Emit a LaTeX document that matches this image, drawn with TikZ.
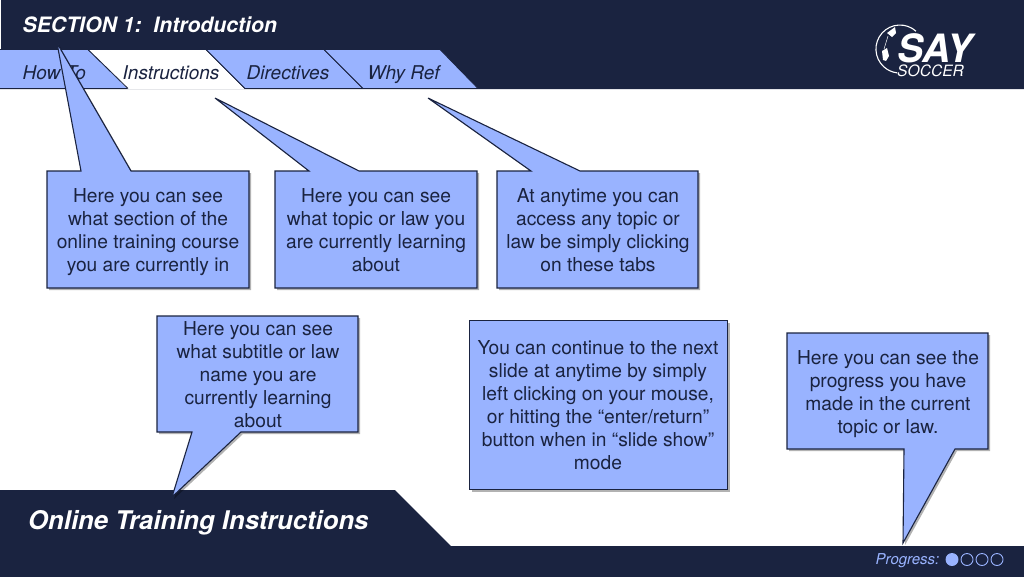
\documentclass[tikz,border=0pt]{standalone}
\usepackage{fontspec}
\setmainfont{TeX Gyre Heros}
\usetikzlibrary{shadows}
\definecolor{navy}{HTML}{1A2340}
\definecolor{sky}{HTML}{99B3FF}
\tikzset{
	bubble/.style={draw=navy, fill=sky, line width=1.1pt, line join=miter,
		drop shadow={shadow xshift=2pt, shadow yshift=-2pt, opacity=0.3, fill=black}},
	bubbletext/.style={align=center, text=navy, font=\fontsize{19.2}{23}\selectfont},
	tabshape/.style={draw=navy, fill=sky, line width=0.8pt},
	tabtext/.style={anchor=base west, inner sep=0pt, text=navy, font=\fontsize{19}{23}\selectfont\itshape},
	dot/.style={circle, draw=sky, line width=0.9pt, minimum size=12pt, inner sep=0pt}
}
\begin{document}
\begin{tikzpicture}[x=1pt, y=-1pt]
	\useasboundingbox (0, 0) rectangle (1024, 576);

	%faixa superior
	\fill[navy] (1, 0) -- (1024, 0) -- (1024, 89) -- (0, 89) -- (0, 49) -- (1, 49) -- cycle;
	\node[anchor=base west, inner sep=0pt, text=white, font=\fontsize{21.2}{24}\selectfont\bfseries\itshape] (section) at (22.5, 32) {SECTION 1:\ \ Introduction};

	%abas
	\draw[tabshape] (0, 49.5) -- (88, 49.5) -- (128, 88.5) -- (0, 88.5);
	\fill[white] (88, 49.5) -- (206, 49.5) -- (245, 89) -- (128, 89) -- cycle;
	\draw[navy, line width=0.8pt] (128, 88.5) -- (88, 49.5) -- (206, 49.5) -- (245, 88.5);
	\draw[tabshape] (206, 49.5) -- (324, 49.5) -- (363, 88.5) -- (245, 88.5) -- cycle;
	\draw[tabshape] (324, 49.5) -- (440, 49.5) -- (478, 88.5) -- (363, 88.5) -- cycle;
	\node[tabtext] (howto) at (22.5, 79.5) {How To};
	\node[tabtext] (instructions) at (122.5, 79.5) {Instructions};
	\node[tabtext] (directives) at (246.5, 79.5) {Directives};
	\node[tabtext] (whyref) at (367.5, 79.5) {Why Ref};

	%logo
	\draw[white, line width=1.1pt] (916, 31.2) arc (-48:-263:24);
	\fill[white] (887, 33) -- (895, 27) -- (896, 33) -- (892, 37) -- cycle;
	\fill[white] (882, 51) -- (887, 48) -- (889, 56) -- (886, 61) -- (883, 60) -- cycle;
	\draw[white, line width=0.5pt] (888, 36) -- (884, 49);
	\node[anchor=base west, inner sep=0pt, text=white, font=\fontsize{39}{44}\selectfont\bfseries\itshape] (say) at (897, 62) {SAY};
	\node[anchor=base west, inner sep=0pt, text=white, font=\fontsize{15.6}{16}\selectfont\itshape] (soccer) at (897, 76) {SOCCER};

	%faixa inferior
	\fill[navy] (0, 490) -- (395, 490) -- (451, 546) -- (1025, 546) -- (1025, 577) -- (0, 577) -- cycle;
	\node[anchor=base west, inner sep=0pt, text=white, font=\fontsize{25.7}{30}\selectfont\bfseries\itshape] (title) at (28, 529.5) {Online Training Instructions};
	\node[anchor=base east, inner sep=0pt, text=sky, font=\fontsize{15}{18}\selectfont\itshape] (progress) at (939.5, 564.5) {Progress:};
	\node[dot, fill=sky] (dot1) at (952, 559.5) {};
	\node[dot] (dot2) at (967, 559.5) {};
	\node[dot] (dot3) at (982, 559.5) {};
	\node[dot] (dot4) at (997, 559.5) {};

	%balao 1
	\draw[bubble] (47, 171) -- (81, 171) -- (57, 43) -- (131, 171) -- (249, 171) -- (249, 288) -- (47, 288) -- cycle;
	\node[bubbletext] (box1) at (148, 232) {Here you can see\\what section of the\\online training course\\you are currently in};

	%balao 2
	\draw[bubble] (275, 171) -- (309, 171) -- (215, 98) -- (359, 171) -- (477, 171) -- (477, 288) -- (275, 288) -- cycle;
	\node[bubbletext] (box2) at (376, 230) {Here you can see\\what topic or law you\\are currently learning\\about};

	%balao 3
	\draw[bubble] (497, 171) -- (531, 171) -- (428, 98) -- (580, 171) -- (698, 171) -- (698, 288) -- (497, 288) -- cycle;
	\node[bubbletext] (box3) at (598, 230) {At anytime you can\\access any topic or\\law be simply clicking\\on these tabs};

	%balao 4
	\draw[bubble] (157, 316) -- (358, 316) -- (358, 432) -- (241, 432) -- (172, 497) -- (192, 432) -- (157, 432) -- cycle;
	\node[bubbletext] (box4) at (258, 375) {Here you can see\\what subtitle or law\\name you are\\currently learning\\about};

	%balao 5
	\draw[bubble] (469.5, 320.5) rectangle (727.5, 489.5);
	\node[bubbletext] (box5) at (598, 405) {You can continue to the next\\slide at anytime by simply\\left clicking on your mouse,\\or hitting the “enter/return”\\button when in “slide show”\\mode};

	%balao 6
	\draw[bubble] (787, 333) -- (988, 333) -- (988, 449) -- (955, 449) -- (903, 543) -- (904, 449) -- (787, 449) -- cycle;
	\node[bubbletext] (box6) at (888, 394) {Here you can see the\\progress you have\\made in the current\\topic or law.};
\end{tikzpicture}
\end{document}
